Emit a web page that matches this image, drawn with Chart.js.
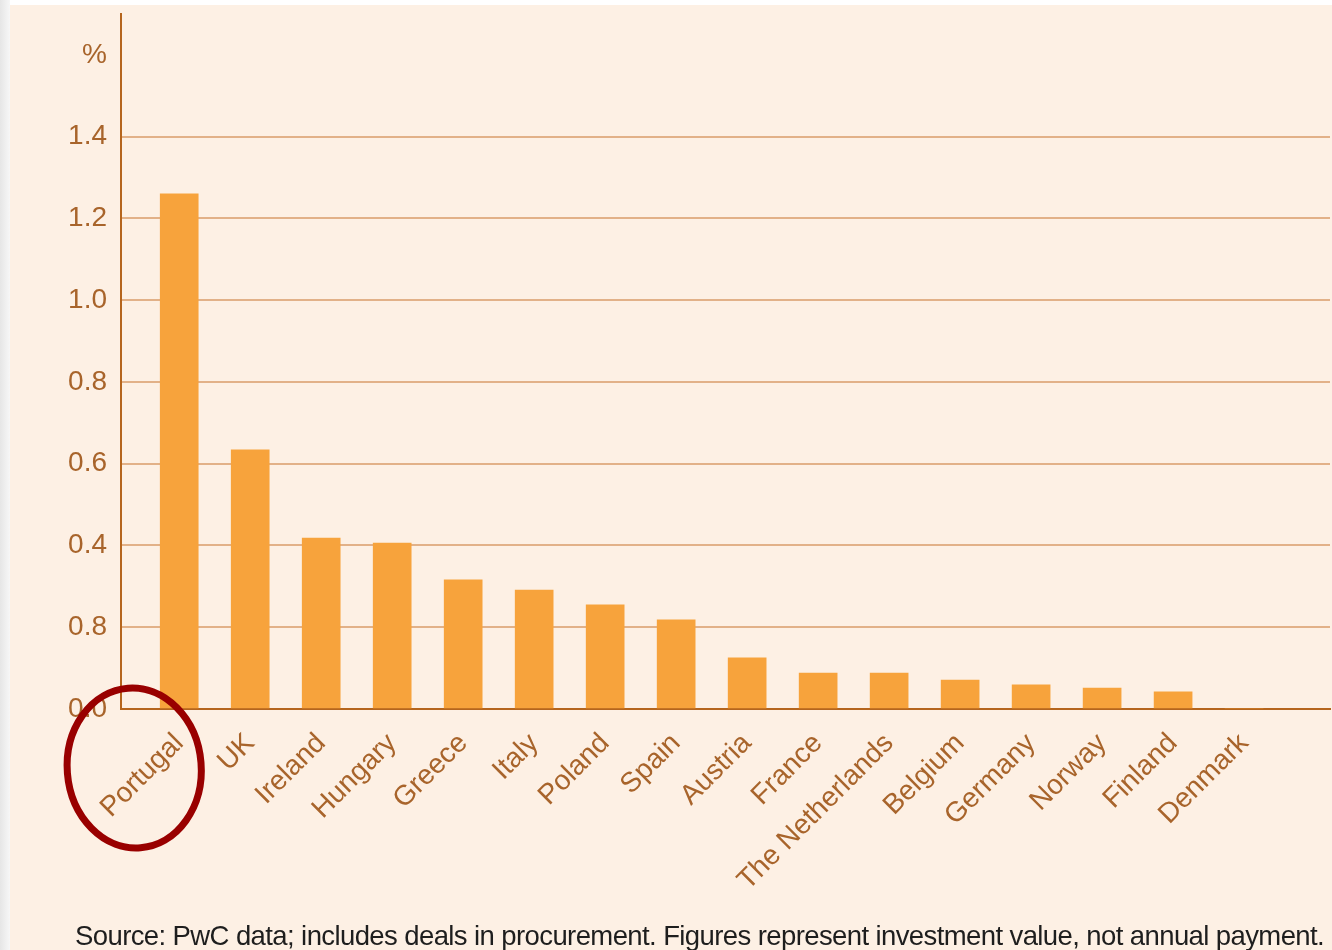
<!DOCTYPE html>
<html>
<head>
<meta charset="utf-8">
<script src="https://cdn.jsdelivr.net/npm/chart.js@4/dist/chart.umd.min.js"></script>
<style>
  html, body { margin: 0; padding: 0; }
  body {
    width: 1332px; height: 950px; overflow: hidden; position: relative;
    background: linear-gradient(to right, #e6e6e6, #f7f7f7 10px, #ffffff 10px);
  }
  .panel { position: absolute; left: 10px; top: 5px; right: 0; bottom: 0; background: #fdf0e4; }
  #chart { position: absolute; left: 0; top: 0; }
  .source {
    position: absolute; left: 75px; top: 920px; white-space: nowrap;
    font-family: "Liberation Sans", Arial, sans-serif; font-size: 27.5px;
    letter-spacing: -0.6px; color: #1e1e1e;
  }
</style>
</head>
<body>
<div class="panel"></div>
<canvas id="chart" width="1332" height="950"></canvas>
<div class="source">Source: PwC data; includes deals in procurement. Figures represent investment value, not annual payment.</div>
<script>
// chart data
const countries = ["Portugal", "UK", "Ireland", "Hungary", "Greece", "Italy", "Poland", "Spain",
  "Austria", "France", "The Netherlands", "Belgium", "Germany", "Norway", "Finland", "Denmark"]
const shares = [1.26, 0.634, 0.418, 0.406, 0.316, 0.291, 0.255, 0.218,
  0.125, 0.088, 0.088, 0.071, 0.059, 0.051, 0.042, 0]
// y tick values and their labels as printed (the 0.2 line is labelled "0.8" in the original)
const yTickValues = [0, 0.2, 0.4, 0.6, 0.8, 1.0, 1.2, 1.4, 1.6]
const yTickLabels = ["0.0", "0.8", "0.4", "0.6", "0.8", "1.0", "1.2", "1.4", "%"]

const labelColor = "#a8642b"
const axisColor = "#b5651d"
const gridColor = "#e2b188"

// red ring drawn round the Portugal label
const ringPlugin = {
  id: "ring",
  afterDraw(chart) {
    const { ctx, scales } = chart
    const cx = scales.x.getPixelForValue(0) - 45
    const cy = scales.y.getPixelForValue(0) + 59
    ctx.save()
    ctx.strokeStyle = "#990000"
    ctx.lineWidth = 7
    ctx.beginPath()
    ctx.ellipse(cx, cy, 67, 80, -0.08, 0, Math.PI * 2)
    ctx.stroke()
    ctx.restore()
  },
}

const ctx = document.getElementById("chart").getContext("2d")
new Chart(ctx, {
  type: "bar",
  data: {
    datasets: [
      {
        data: shares.map((v, i) => ({ x: i, y: v })),
        backgroundColor: "#f7a33c",
        borderWidth: 0,
        barThickness: 38,
      },
    ],
  },
  options: {
    responsive: false,
    animation: false,
    layout: { padding: { top: 14, right: 2, left: 0, bottom: 0 } },
    plugins: {
      legend: { display: false },
      tooltip: { enabled: false },
    },
    scales: {
      x: {
        type: "linear",
        offset: false,
        min: -0.82,
        max: 16.21,
        afterBuildTicks: (axis) => {
          axis.ticks = countries.map((_, i) => ({ value: i }))
        },
        afterFit: (axis) => {
          axis.height = 241
          axis.paddingLeft = 0
          axis.paddingRight = 0
        },
        grid: { display: false, drawTicks: false, offset: false },
        border: { color: axisColor, width: 2 },
        ticks: {
          autoSkip: false,
          maxRotation: 45,
          minRotation: 45,
          padding: 18,
          color: labelColor,
          font: { family: "Liberation Sans", size: 28 },
          callback: (v) => countries[v],
        },
      },
      y: {
        min: 0,
        max: 1.7,
        afterBuildTicks: (axis) => {
          axis.ticks = yTickValues.map((v) => ({ value: v }))
        },
        afterFit: (axis) => {
          axis.width = 121
          axis.paddingTop = 0
          axis.paddingBottom = 0
        },
        grid: {
          drawTicks: false,
          lineWidth: 2,
          color: (c) => (c.tick && c.tick.value > 1.5 ? "rgba(0,0,0,0)" : gridColor),
        },
        border: { color: axisColor, width: 2 },
        ticks: {
          padding: 14,
          color: labelColor,
          font: { family: "Liberation Sans", size: 28 },
          callback: (v) => yTickLabels[yTickValues.findIndex((t) => Math.abs(t - v) < 1e-6)],
        },
      },
    },
  },
  plugins: [ringPlugin],
})
</script>
</body>
</html>
